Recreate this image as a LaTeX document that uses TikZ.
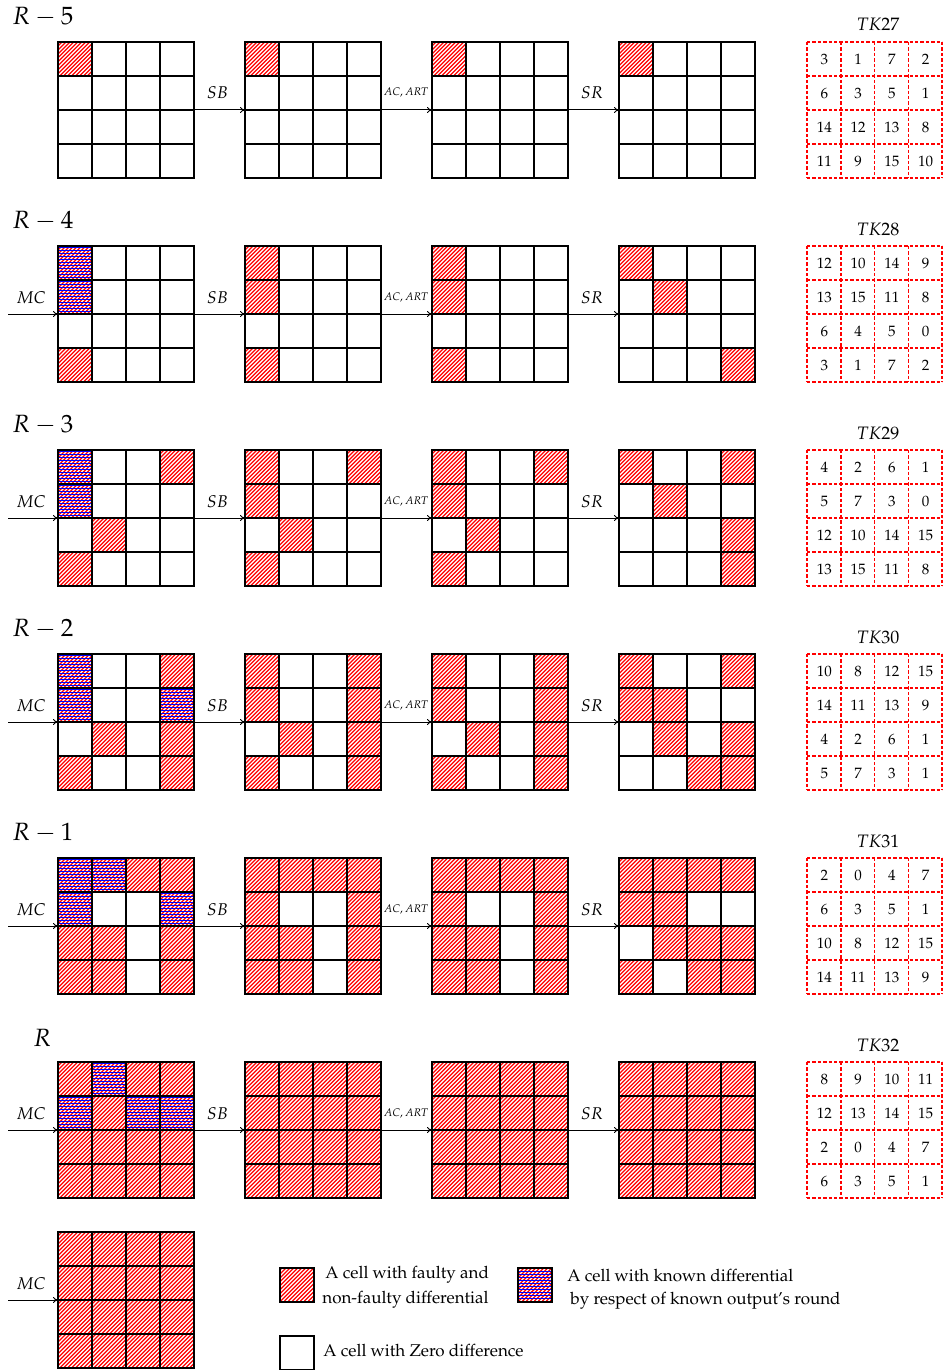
\documentclass[tikz,border=0pt]{standalone}
\usepackage[T1]{fontenc}
\usepackage{mathpazo}
\usetikzlibrary{arrows.meta}
\tikzset{
 hatchred/.style={draw=red, line width=0.62pt},
 hatchblue/.style={draw=blue, line width=0.55pt},
 gridline/.style={line width=0.8pt,line cap=rect},
 gridbox/.style={minimum width=68pt,minimum height=68pt,inner sep=0pt,outer sep=0pt,anchor=north west},
 arr/.style={-{To[length=2.5pt,width=3pt]}, line width=0.5pt},
 oplab/.style={font=\fontsize{8.5}{10}\selectfont, anchor=base, inner sep=0pt},
 artlab/.style={font=\fontsize{5.5}{6.5}\selectfont, anchor=base, inner sep=0pt},
 roundlab/.style={font=\fontsize{12.5}{14}\selectfont, anchor=base west, inner sep=0pt},
 tklab/.style={font=\fontsize{9}{11}\selectfont, anchor=base, inner sep=0pt},
 tkline/.style={draw=red, dash pattern=on 1.7pt off 1pt, line width=0.75pt},
 tkcell/.style={minimum width=16.875pt, minimum height=17pt, inner sep=0pt, anchor=north west, font=\fontsize{7.5}{9}\selectfont},
 legtext/.style={font=\fontsize{8.5}{10}\selectfont, anchor=base west, inner sep=0pt},
 legbox/.style={draw, line width=1pt, minimum size=17pt, inner sep=0pt, anchor=north west},
}
% one hatched cell: x, y of top-left corner
\newcommand\redcell[2]{\begin{scope}\clip (#1,#2) rectangle ++(34,34);
  \draw[hatchred] \foreach \k in {0,...,17}{({#1-34+\k*3.96},{#2+34}) -- ++(34,-34)};\end{scope}}
\newcommand\bluecell[2]{\begin{scope}\clip (#1,#2) rectangle ++(34,34);
  \draw[hatchblue] \foreach \k in {0,...,11}{(#1,{#2+1.5+\k*3}) -- ++(34,0)};\end{scope}}
% red cells: x, y, list r/c
\newcommand\Gred[3]{\foreach \r/\c in {#3} {\redcell{#1+\c*34}{#2+\r*34}}}
\newcommand\Gblue[3]{\foreach \r/\c in {#3} {\bluecell{#1+\c*34}{#2+\r*34}}}
\newcommand\Glines[2]{\foreach \i in {0,...,4}{\draw[gridline] ({#1+\i*34},#2) -- ++(0,136); \draw[gridline] (#1,{#2+\i*34}) -- ++(136,0);}}
% row of four grids with operations
\newcommand\oprow[2]{%
  \Glines{58}{#2}\Glines{245}{#2}\Glines{432}{#2}\Glines{619}{#2}
  \node[gridbox] (g#1a) at (58,#2) {};
  \node[gridbox] (g#1b) at (245,#2) {};
  \node[gridbox] (g#1c) at (432,#2) {};
  \node[gridbox] (g#1d) at (619,#2) {};
  \draw[arr] (g#1a.east) -- (g#1b.west);
  \draw[arr] (g#1b.east) -- (g#1c.west);
  \draw[arr] (g#1c.east) -- (g#1d.west);
  \node[oplab] (sb#1) at (217.5,#2+57) {$SB$};
  \node[artlab] (art#1) at (406,#2+54) {$AC, ART$};
  \node[oplab] (sr#1) at (592,#2+57) {$SR$};
}
\newcommand\mcin[2]{%
  \coordinate (mc#1) at (8,#2+68);
  \draw[arr] (mc#1) -- (g#1a.west);
  \node[oplab] (mcl#1) at (31,#2+57) {$MC$};
}
\newcommand\TKrow[7]{%
  \node[tkcell] (#1a) at (807,#2) {#3};
  \node[tkcell] (#1b) at (840.75,#2) {#4};
  \node[tkcell] (#1c) at (874.5,#2) {#5};
  \node[tkcell] (#1d) at (908.25,#2) {#6};
}
\newcommand\TK[6]{% name, top, row lists
  \foreach \i in {0,...,4}{\draw[tkline] ({807+\i*33.75},#2) -- ++(0,136); \draw[tkline] (807,{#2+\i*34}) -- ++(135,0);}
  \node[tklab] (tk#1) at (878,#2-11) {$TK#1$};
  \TKrow{t#1r1}{#2}#3
  \TKrow{t#1r2}{#2+34}#4
  \TKrow{t#1r3}{#2+68}#5
  \TKrow{t#1r4}{#2+102}#6
}
\def\ALL{0/0,0/1,0/2,0/3,1/0,1/1,1/2,1/3,2/0,2/1,2/2,2/3,3/0,3/1,3/2,3/3}
\begin{document}
\begin{tikzpicture}[x=0.5pt,y=-0.5pt]
\useasboundingbox (0,0) rectangle (943,1370);

% ---------- Row A : R-5 ----------
\node[roundlab] (rA) at (12,24.5) {$R-5$};
\Gred{58}{42}{0/0}\Gred{245}{42}{0/0}\Gred{432}{42}{0/0}\Gred{619}{42}{0/0}
\oprow{A}{42}
\TK{27}{42}{{3}{1}{7}{2}{}}{{6}{3}{5}{1}{}}{{14}{12}{13}{8}{}}{{11}{9}{15}{10}{}}

% ---------- Row B : R-4 ----------
\node[roundlab] (rB) at (12,228.5) {$R-4$};
\Gred{58}{246}{0/0,1/0,3/0}\Gblue{58}{246}{0/0,1/0}
\Gred{245}{246}{0/0,1/0,3/0}\Gred{432}{246}{0/0,1/0,3/0}
\Gred{619}{246}{0/0,1/1,3/3}
\oprow{B}{246}\mcin{B}{246}
\TK{28}{246}{{12}{10}{14}{9}{}}{{13}{15}{11}{8}{}}{{6}{4}{5}{0}{}}{{3}{1}{7}{2}{}}

% ---------- Row C : R-3 ----------
\node[roundlab] (rC) at (12,432.5) {$R-3$};
\Gred{58}{450}{0/0,1/0,0/3,2/1,3/0}\Gblue{58}{450}{0/0,1/0}
\Gred{245}{450}{0/0,1/0,0/3,2/1,3/0}\Gred{432}{450}{0/0,1/0,0/3,2/1,3/0}
\Gred{619}{450}{0/0,0/3,1/1,2/3,3/3}
\oprow{C}{450}\mcin{C}{450}
\TK{29}{450}{{4}{2}{6}{1}{}}{{5}{7}{3}{0}{}}{{12}{10}{14}{15}{}}{{13}{15}{11}{8}{}}

% ---------- Row D : R-2 ----------
\node[roundlab] (rD) at (12,636.5) {$R-2$};
\Gred{58}{654}{0/0,0/3,1/0,1/3,2/1,2/3,3/0,3/3}\Gblue{58}{654}{0/0,1/0,1/3}
\Gred{245}{654}{0/0,0/3,1/0,1/3,2/1,2/3,3/0,3/3}
\Gred{432}{654}{0/0,0/3,1/0,1/3,2/1,2/3,3/0,3/3}
\Gred{619}{654}{0/0,0/3,1/0,1/1,2/1,2/3,3/2,3/3}
\oprow{D}{654}\mcin{D}{654}
\TK{30}{654}{{10}{8}{12}{15}{}}{{14}{11}{13}{9}{}}{{4}{2}{6}{1}{}}{{5}{7}{3}{1}{}}

% ---------- Row E : R-1 ----------
\node[roundlab] (rE) at (12,840.5) {$R-1$};
\Gred{58}{858}{0/0,0/1,0/2,0/3,1/0,1/3,2/0,2/1,2/3,3/0,3/1,3/3}\Gblue{58}{858}{0/0,0/1,1/0,1/3}
\Gred{245}{858}{0/0,0/1,0/2,0/3,1/0,1/3,2/0,2/1,2/3,3/0,3/1,3/3}
\Gred{432}{858}{0/0,0/1,0/2,0/3,1/0,1/3,2/0,2/1,2/3,3/0,3/1,3/3}
\Gred{619}{858}{0/0,0/1,0/2,0/3,1/0,1/1,2/1,2/2,2/3,3/0,3/2,3/3}
\oprow{E}{858}\mcin{E}{858}
\TK{31}{858}{{2}{0}{4}{7}{}}{{6}{3}{5}{1}{}}{{10}{8}{12}{15}{}}{{14}{11}{13}{9}{}}

% ---------- Row F : R ----------
\node[roundlab] (rF) at (33,1046) {$R$};
\Gred{58}{1062}{0/0,0/1,0/2,0/3,1/0,1/1,1/2,1/3,2/0,2/1,2/2,2/3,3/0,3/1,3/2,3/3}\Gblue{58}{1062}{0/1,1/0,1/2,1/3}
\Gred{245}{1062}{0/0,0/1,0/2,0/3,1/0,1/1,1/2,1/3,2/0,2/1,2/2,2/3,3/0,3/1,3/2,3/3}
\Gred{432}{1062}{0/0,0/1,0/2,0/3,1/0,1/1,1/2,1/3,2/0,2/1,2/2,2/3,3/0,3/1,3/2,3/3}
\Gred{619}{1062}{0/0,0/1,0/2,0/3,1/0,1/1,1/2,1/3,2/0,2/1,2/2,2/3,3/0,3/1,3/2,3/3}
\oprow{F}{1062}\mcin{F}{1062}
\TK{32}{1062}{{8}{9}{10}{11}{}}{{12}{13}{14}{15}{}}{{2}{0}{4}{7}{}}{{6}{3}{5}{1}{}}

% ---------- Row G : final MC ----------
\Gred{58}{1232}{0/0,0/1,0/2,0/3,1/0,1/1,1/2,1/3,2/0,2/1,2/2,2/3,3/0,3/1,3/2,3/3}
\Glines{58}{1232}
\node[gridbox] (gGa) at (58,1232) {};
\mcin{G}{1232}

% ---------- Legend ----------
\redcell{279}{1267}
\node[legbox] (legR) at (279,1267) {};
\node[legtext] (legR1) at (325,1278) {A cell with faulty and};
\node[legtext] (legR2) at (322,1303) {non-faulty differential};
\redcell{517}{1267}\bluecell{517}{1267}
\node[legbox] (legB) at (517,1267) {};
\node[legtext] (legB1) at (567,1281) {A cell with known differential};
\node[legtext] (legB2) at (570,1304) {by respect of known output's round};
\node[legbox] (legW) at (279,1335) {};
\node[legtext] (legW1) at (323,1356) {A cell with Zero difference};
\end{tikzpicture}
\end{document}
